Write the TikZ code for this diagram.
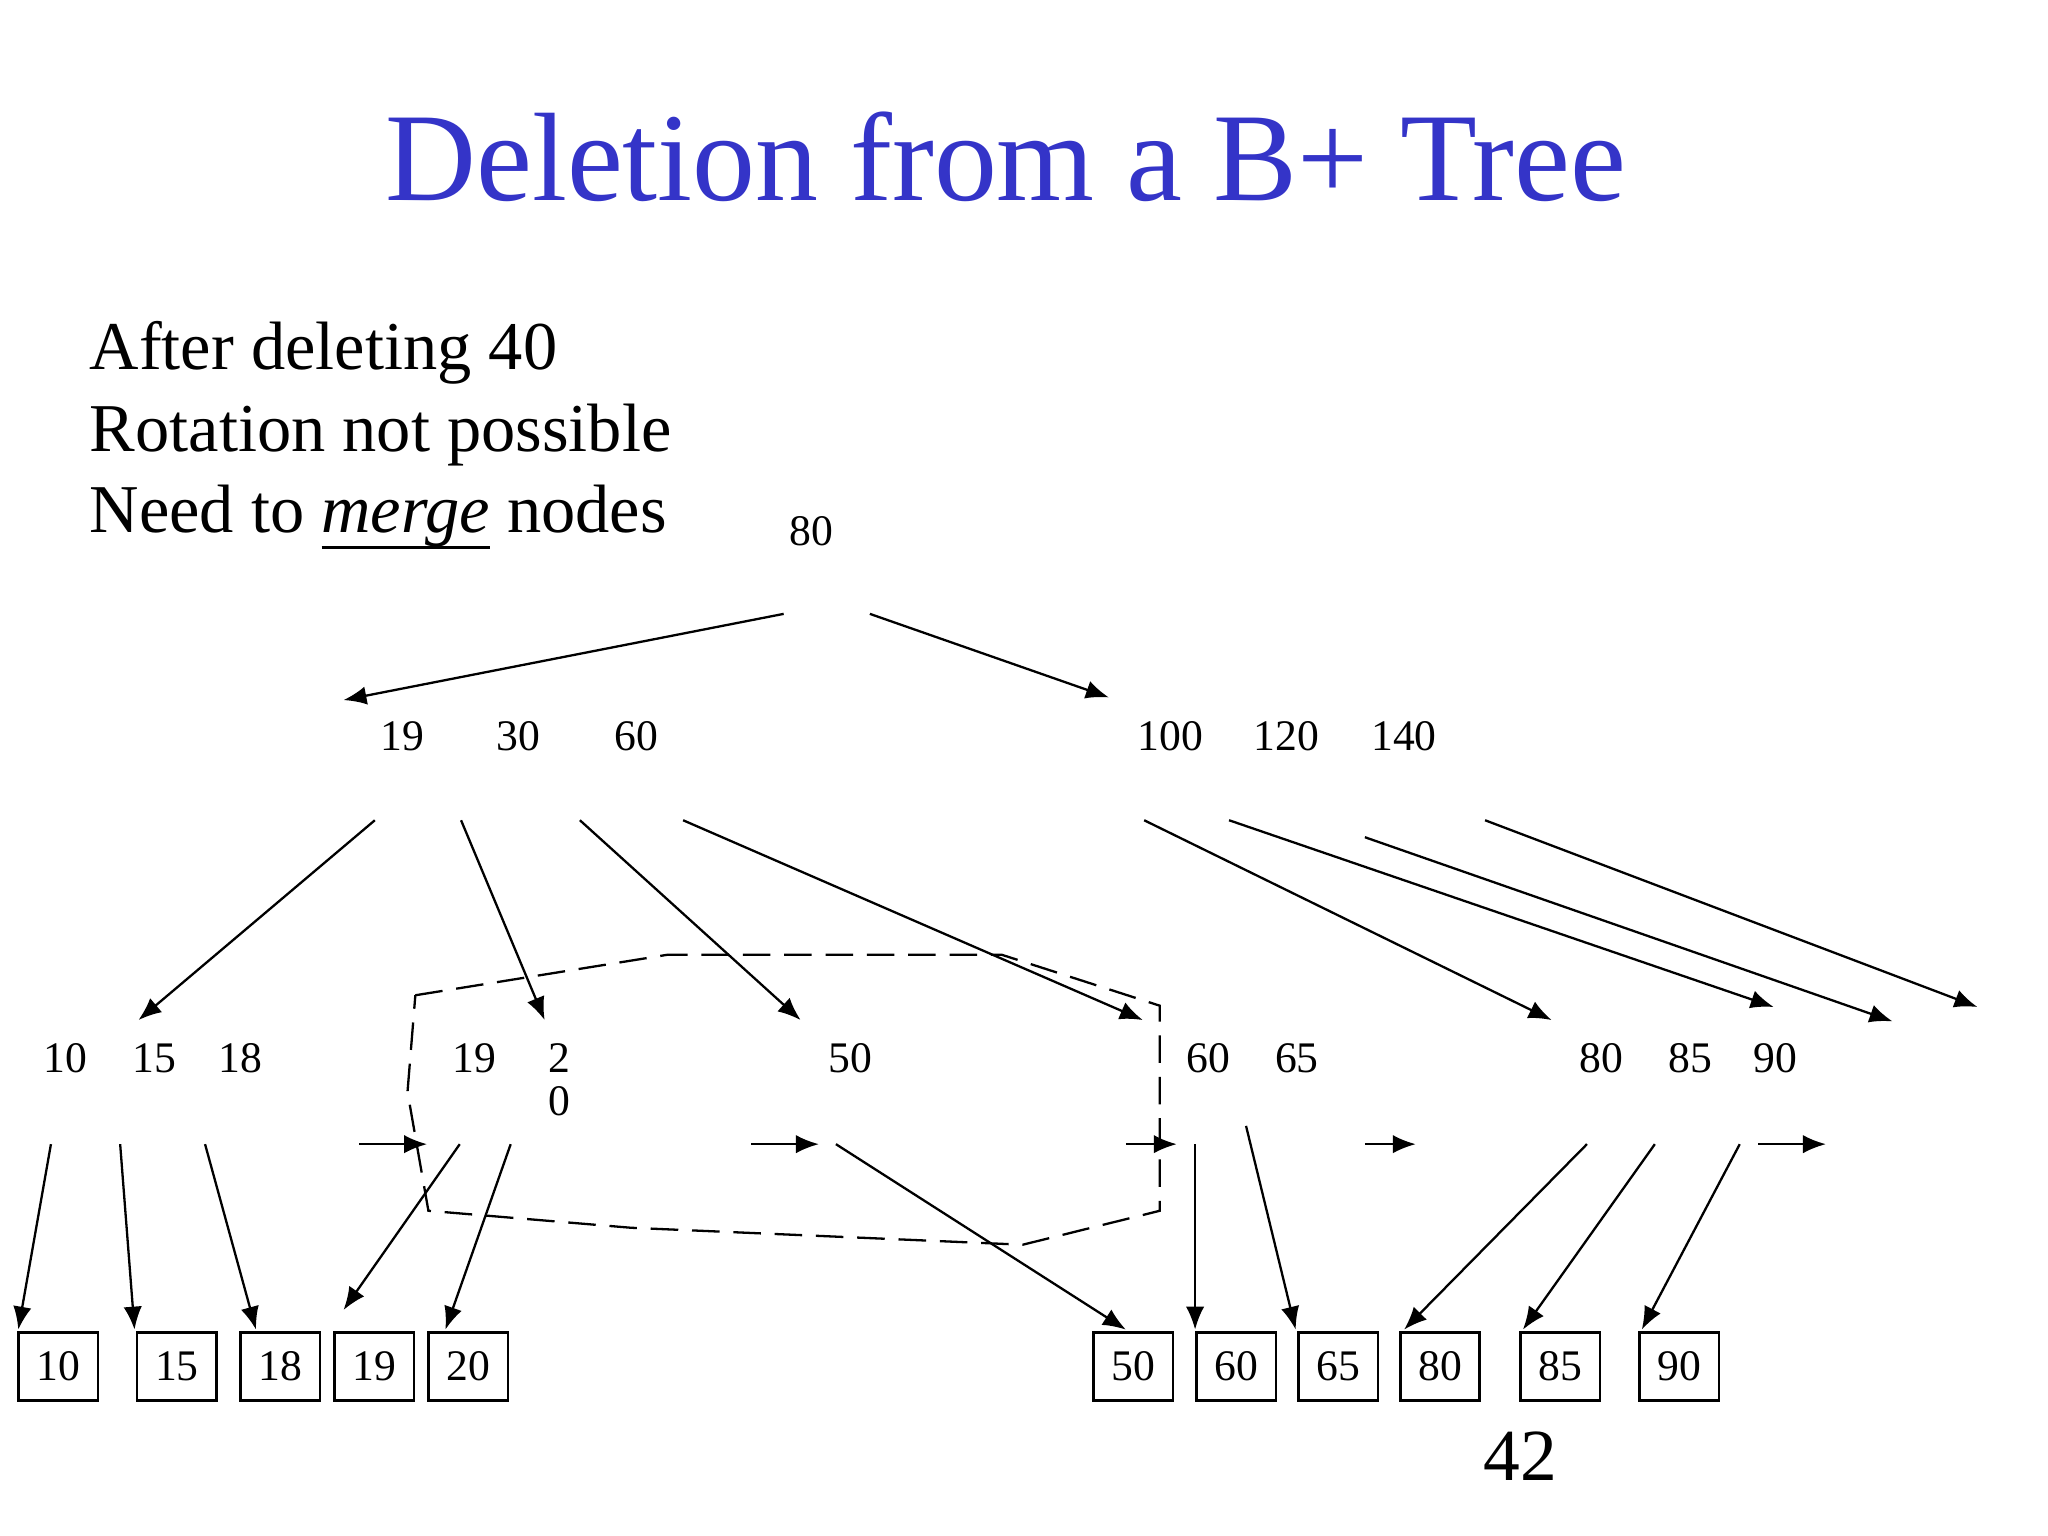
\documentclass[tikz,border=0pt]{standalone}
\usepackage{fontspec}
\setmainfont{Liberation Serif}
\usetikzlibrary{arrows.meta}
\definecolor{titleblue}{RGB}{52,52,200}
\newlength\mergewd
\newcommand\ulmerge{\settowidth\mergewd{\textit{merge}}\rlap{\rule[-3.5pt]{\mergewd}{0.6pt}}\textit{merge}}
\begin{document}
\begin{tikzpicture}[x=0.01cm,y=-0.01cm,
  arr/.style={-{Latex[length=5pt,width=4pt]},line width=0.5pt},
  lab/.style={font=\fontsize{9.5}{11}\selectfont,inner sep=0pt},
  body/.style={anchor=base west,inner sep=0pt,font=\fontsize{14.9}{18}\selectfont},
  leaf/.style={draw,line width=0.6pt,minimum width=0.61cm,minimum height=0.52cm,inner sep=0pt,font=\fontsize{9.5}{11}\selectfont}]
\useasboundingbox (0,0) rectangle (1568,1176);
\node[titleblue,font=\fontsize{27.4}{32}\selectfont] (title) at (770,120) {Deletion from a B+ Tree};
\node[body] (t1) at (68,283) {After deleting 40};
\node[body] (t2) at (68,346) {Rotation not possible};
\node[body] (t3) at (68,408) {Need to \ulmerge{} nodes};
\node[font=\fontsize{16}{18}\selectfont] (pg) at (1164,1115) {42};
% internal labels
\foreach \t/\x/\y in {80/621/407, 19/308/564, 30/397/564, 60/487/564, 100/896/564, 120/985/564, 140/1075/564,
  10/50/810, 15/118/810, 18/184/810, 19/363/810, 2/428/810, 0/428/843, 50/651/810, 60/925/810, 65/993/810,
  80/1226/810, 85/1294/810, 90/1359/810}
  \node[lab] at (\x,\y) {\t};
% leaves
\foreach \t/\x in {10/44.5, 15/135.5, 18/214.5, 19/286.5, 20/358.5, 50/867.5, 60/946.5, 65/1024.5, 80/1102.5, 85/1194.5, 90/1285.5}
  \node[leaf] (l\t) at (\x,1046) {\t};
% arrows
\foreach \a/\b/\c/\d in {600/470/263/536, 666/470/849/534,
  287/628/106/781, 353/628/417/781, 444/628/613/781, 523/628/875/781,
  876/628/1188/781, 941/628/1358/771, 1045/641/1449/782, 1137/628/1514/771,
  39/876/14/1018, 92/876/103/1018, 157/876/196/1018, 352/876/263/1003, 391/876/341/1018,
  640/876/862/1018, 915/876/915/1018, 954/862/992/1018, 1215/876/1075/1018, 1267/876/1166/1018, 1332/876/1257/1018,
  275/876/327/876, 575/876/627/876, 862/876/901/876, 1045/876/1084/876, 1346/876/1398/876}
  \draw[arr] (\a,\b) -- (\c,\d);
\draw[dashed,dash pattern=on 6pt off 3pt,line width=0.5pt] (318,762) -- (511,731) -- (767,731) -- (888,770) -- (888,927) -- (783,953) -- (483,940) -- (328,927) -- (312,836) -- cycle;
\end{tikzpicture}
\end{document}
